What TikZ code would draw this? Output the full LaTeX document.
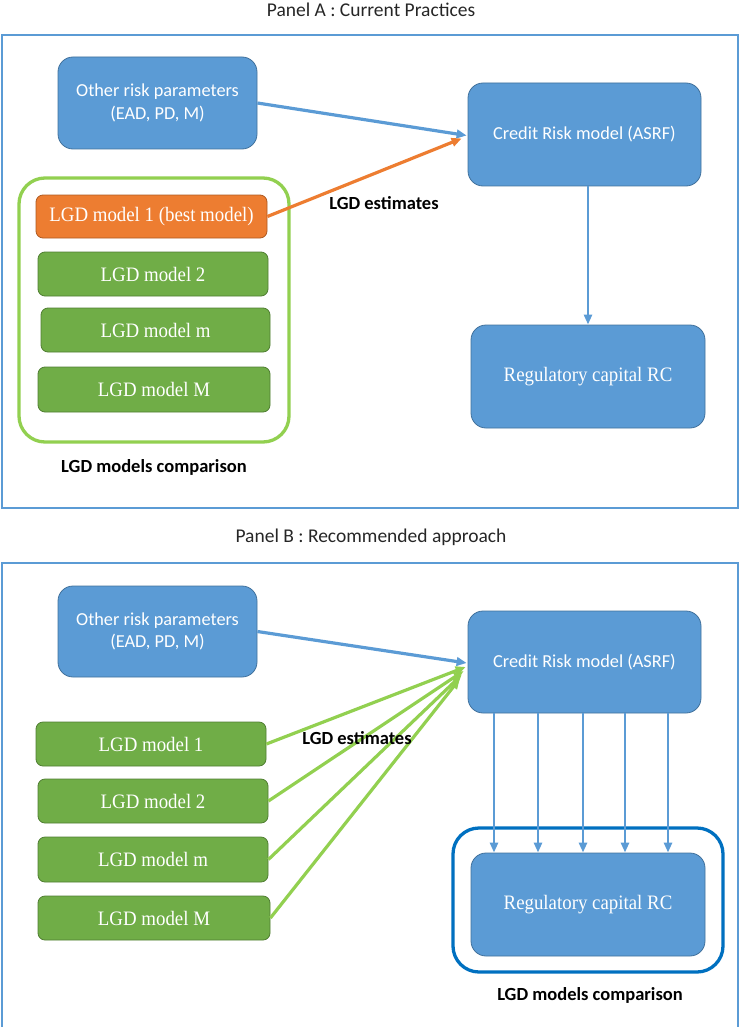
\documentclass[tikz,border=0pt]{standalone}
\usepackage{fontspec}
\setmainfont{Liberation Serif}[FakeStretch=0.92]
\newfontfamily\carl{Carlito}
\usetikzlibrary{arrows.meta,calc}
\definecolor{boxblue}{HTML}{5B9BD5}
\definecolor{boxblueb}{HTML}{41719C}
\definecolor{boxgreen}{HTML}{70AD47}
\definecolor{boxgreenb}{HTML}{507E32}
\definecolor{boxorange}{HTML}{ED7D31}
\definecolor{boxorangeb}{HTML}{AE5A21}
\definecolor{lgreen}{HTML}{92D050}
\definecolor{dblue}{HTML}{0070C0}
\definecolor{titlegray}{HTML}{262626}
\tikzset{
  bluebox/.style={draw=boxblueb, fill=boxblue, line width=0.8pt, rounded corners=15pt, text=white,
    font=\carl\fontsize{18.3}{22.5}\selectfont, align=center, inner sep=0pt},
  greenbox/.style={draw=boxgreenb, fill=boxgreen, line width=0.8pt, rounded corners=7pt, text=white,
    font=\fontsize{20.5}{22}\selectfont, inner sep=0pt},
  orangebox/.style={greenbox, draw=boxorangeb, fill=boxorange},
  serifbox/.style={bluebox, font=\fontsize{20.5}{22}\selectfont},
  frame/.style={draw=boxblue, line width=1.5pt},
  titletext/.style={font=\carl\fontsize{19.5}{22}\selectfont, text=titlegray},
  boldlabel/.style={font=\carl\bfseries\fontsize{18.5}{22}\selectfont, text=black},
  arr/.style={-{Triangle[length=10pt,width=8.5pt]}},
  blinearrow/.style={arr, draw=boxblue, line width=3.2pt},
  vblue/.style={-{Triangle[length=10pt,width=8pt]}, draw=boxblue, line width=2.6pt},
  garrow/.style={arr, draw=lgreen, line width=3.2pt},
  oarrow/.style={arr, draw=boxorange, line width=3.2pt}
}
\begin{document}
\begin{tikzpicture}[x=1pt,y=-1pt]
\useasboundingbox (0,0) rectangle (740,1027);
% ---------- Panel A ----------
\node[titletext] (titleA) at (371,10) {Panel A : Current Practices};
\draw[frame] (2,35) rectangle (738,508);
\node[bluebox, minimum width=199pt, minimum height=92pt] (otherA) at (157.5,103) {Other risk parameters\\(EAD, PD, M)};
\node[bluebox, minimum width=233pt, minimum height=103pt] (creditA) at (584.5,134.5) {Credit Risk model (ASRF)};
\draw[draw=lgreen, line width=3.3pt, rounded corners=26pt] (19,178) rectangle (289,442);
\node[orangebox, minimum width=231pt, minimum height=43pt] (lgd1A) at (151.5,216.5) {LGD model 1 (best model)};
\node[greenbox, minimum width=230pt, minimum height=44pt] (lgd2A) at (153,274) {LGD model 2};
\node[greenbox, minimum width=229pt, minimum height=44pt] (lgdmA) at (155.5,330) {LGD model m};
\node[greenbox, minimum width=232pt, minimum height=45pt] (lgdMA) at (154,389.5) {LGD model M};
\node[serifbox, minimum width=234pt, minimum height=103pt] (rcA) at (588,376.5) {Regulatory capital RC};
\node[boldlabel] (estA) at (384,203) {LGD estimates};
\node[boldlabel] (cmpA) at (154,467) {LGD models comparison};
\draw[blinearrow] (otherA.east) -- ($(creditA.west)+(-1,1)$);
\draw[oarrow] (lgd1A.east) -- ($(creditA.west)+(-6,4)$);
\draw[vblue] (creditA.south -| rcA.north) -- (rcA.north);
% ---------- Panel B ----------
\node[titletext] (titleB) at (371,537) {Panel B : Recommended approach};
\draw[frame] (2,1030) -- (2,563) -- (738,563) -- (738,1030);
\node[bluebox, minimum width=199pt, minimum height=91pt] (otherB) at (157.5,631.5) {Other risk parameters\\(EAD, PD, M)};
\node[bluebox, minimum width=233pt, minimum height=102pt] (creditB) at (584.5,662) {Credit Risk model (ASRF)};
\node[greenbox, minimum width=230pt, minimum height=44pt] (lgd1B) at (151,744) {LGD model 1};
\node[greenbox, minimum width=230pt, minimum height=44pt] (lgd2B) at (153,801) {LGD model 2};
\node[greenbox, minimum width=230pt, minimum height=45pt] (lgdmB) at (153,859.5) {LGD model m};
\node[greenbox, minimum width=232pt, minimum height=44pt] (lgdMB) at (154,918) {LGD model M};
\draw[draw=dblue, line width=3.3pt, rounded corners=26pt] (453,828) rectangle (723,972);
\node[serifbox, minimum width=234pt, minimum height=103pt] (rcB) at (588,904.5) {Regulatory capital RC};
\draw[blinearrow] (otherB.east) -- ($(creditB.west)+(-1,1)$);
\draw[garrow] (lgd1B.east) -- ($(creditB.west)+(-2,5)$);
\draw[garrow] (lgd2B.east) -- ($(creditB.west)+(-4,9)$);
\draw[garrow] (lgdmB.east) -- ($(creditB.west)+(-6,13)$);
\draw[garrow] (lgdMB.east) -- ($(creditB.west)+(-8,17)$);
\foreach \xx in {494,538,583,625,668} {
  \draw[vblue] (creditB.south -| \xx,0) -- (rcB.north -| \xx,0);
}
\node[boldlabel] (estB) at (357,738) {LGD estimates};
\node[boldlabel] (cmpB) at (590,995) {LGD models comparison};
\end{tikzpicture}
\end{document}
